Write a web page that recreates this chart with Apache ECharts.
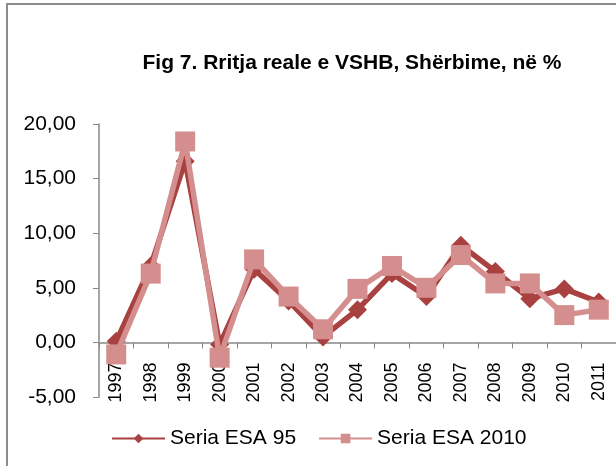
<!DOCTYPE html>
<html>
<head>
<meta charset="utf-8">
<script src="https://cdn.jsdelivr.net/npm/echarts@6/dist/echarts.min.js"></script>
<style>
  html, body { margin: 0; padding: 0; background: #fff; }
  #chart { width: 616px; height: 466px; }
</style>
</head>
<body>
<div id="chart"></div>
<script>
// te dhenat e grafikut
var titleText = "Fig 7. Rritja reale e VSHB, Shërbime, në %";
var years = ["1997", "1998", "1999", "2000", "2001", "2002", "2003", "2004",
             "2005", "2006", "2007", "2008", "2009", "2010", "2011"];
var seriaEsa95 = [0.1, 7.0, 16.6, -0.2, 6.7, 3.8, 0.5, 3.0, 6.3, 4.2, 8.9, 6.5, 4.0, 4.9, 3.7];
var seriaEsa2010 = [-1.1, 6.3, 18.4, -1.4, 7.6, 4.2, 1.2, 4.9, 7.0, 5.0, 8.0, 5.4, 5.4, 2.5, 3.0];
var seriesNames = ["Seria ESA 95", "Seria ESA 2010"];

var yMin = -5, yMax = 20;
var darkRed = "#A8413F";
var lightRed = "#D48E8D";
var font = "'Liberation Sans', Arial, sans-serif";

var gridTop = 124, gridBottom = 69, chartH = 466;
// boshti x qendron ne vleren 0: zhvendosja nga fundi i grid-it
var plotH = chartH - gridTop - gridBottom;
var xAxisOffset = -plotH * (0 - yMin) / (yMax - yMin);

var myChart = echarts.init(document.getElementById("chart"));

myChart.setOption({
    animation: false,
    backgroundColor: "#fff",
    textStyle: { fontFamily: font },
    // korniza e grafikut
    graphic: [{
        type: "rect",
        shape: { x: 7, y: 4, width: 640, height: 500 },
        style: { fill: "none", stroke: "#8c8c8c", lineWidth: 2 },
        silent: true
    }],
    title: {
        text: titleText,
        left: 347,
        top: 48,
        textAlign: "center",
        textStyle: { fontSize: 21, fontWeight: "bold", color: "#000", fontFamily: font }
    },
    legend: {
        bottom: 12,
        left: 106,
        itemWidth: 53,
        itemHeight: 12,
        itemGap: 22,
        textStyle: { fontSize: 21, color: "#000", fontFamily: font },
        data: seriesNames
    },
    grid: { left: 99, right: -2, top: gridTop, bottom: gridBottom, containLabel: false },
    xAxis: {
        type: "category",
        data: years,
        boundaryGap: true,
        offset: xAxisOffset,
        axisLine: { onZero: false, lineStyle: { color: "#888", width: 1.5 } },
        axisTick: { show: true, length: 6, lineStyle: { color: "#888" } },
        axisLabel: { rotate: 90, fontSize: 18, color: "#000", margin: 20, fontFamily: font, interval: 0 }
    },
    yAxis: {
        type: "value",
        min: yMin,
        max: yMax,
        interval: 5,
        splitLine: { show: false },
        axisLine: { show: true, lineStyle: { color: "#888", width: 1.5 } },
        axisTick: { show: true, length: 6, lineStyle: { color: "#888" } },
        axisLabel: {
            fontSize: 21,
            color: "#000",
            margin: 23,
            fontFamily: font,
            formatter: function (v) { return v.toFixed(2).replace(".", ","); }
        }
    },
    series: [{
        name: seriesNames[0],
        type: "line",
        data: seriaEsa95,
        symbol: "diamond",
        symbolSize: 19,
        itemStyle: { color: darkRed },
        lineStyle: { color: darkRed, width: 5.5 },
        z: 2
    }, {
        name: seriesNames[1],
        type: "line",
        data: seriaEsa2010,
        symbol: "rect",
        symbolSize: 20,
        itemStyle: { color: lightRed },
        lineStyle: { color: lightRed, width: 5.5 },
        z: 3
    }]
});
</script>
</body>
</html>
